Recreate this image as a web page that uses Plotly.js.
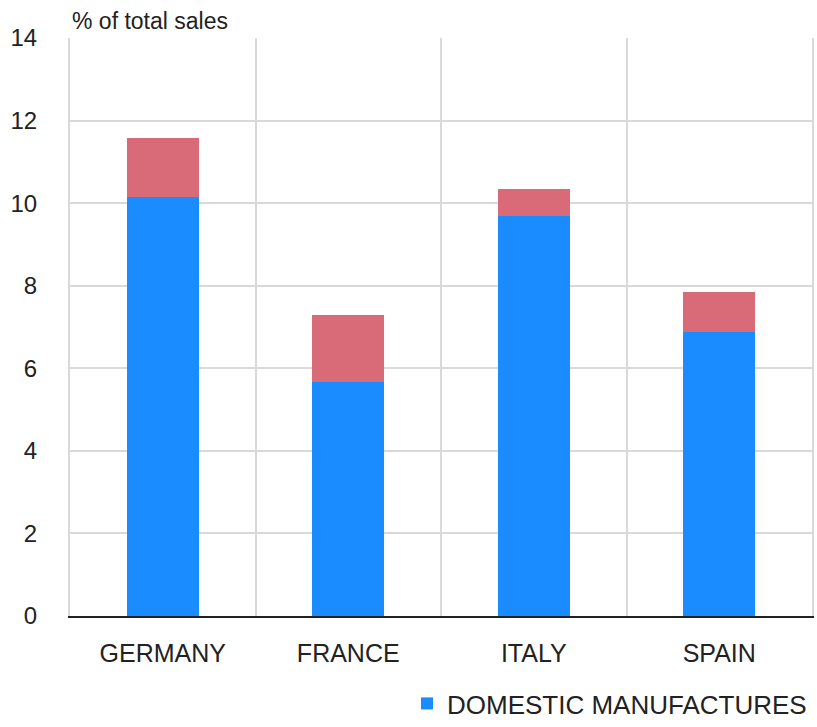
<!DOCTYPE html>
<html>
<head>
<meta charset="utf-8">
<script src="https://cdn.plot.ly/plotly-3.0.1.min.js"></script>
<style>html,body{margin:0;padding:0;background:#fff;}#chart{width:817px;height:727px;}</style>
</head>
<body>
<div id="chart"></div>
<script>
var countries = ["GERMANY", "FRANCE", "ITALY", "SPAIN"];
var domestic = [10.15, 5.67, 9.69, 6.88];
var foreign = [1.42, 1.62, 0.65, 0.97];
var yTicks = [0, 2, 4, 6, 8, 10, 12, 14];

var FONT = "Liberation Sans, Arial, sans-serif";

var traces = [
  {
    type: "bar", x: countries, y: domestic, name: "DOMESTIC MANUFACTURES",
    marker: {color: "#1b8cff"}, width: 0.39
  },
  {
    type: "bar", x: countries, y: foreign, name: "FOREIGN MANUFACTURES",
    marker: {color: "#d86b77"}, width: 0.39, showlegend: false
  }
];

var layout = {
  width: 817, height: 727,
  margin: {l: 70, r: 5, t: 38, b: 111},
  barmode: "stack",
  paper_bgcolor: "#fff", plot_bgcolor: "#fff",
  font: {family: FONT, color: "#222", size: 22},
  xaxis: {
    type: "category", range: [-0.5, 3.5],
    tickson: "boundaries", showgrid: true, gridcolor: "#d9d9d9", gridwidth: 2,
    ticks: "", ticklabelstandoff: 14,
    tickfont: {size: 25, color: "#222"},
    showline: true, linecolor: "#222", linewidth: 2,
    zeroline: false
  },
  yaxis: {
    range: [0, 14], tickvals: yTicks, ticktext: yTicks.map(String),
    showgrid: true, gridcolor: "#d9d9d9", gridwidth: 2,
    showline: true, mirror: true, linecolor: "#d9d9d9", linewidth: 2,
    zeroline: false, ticks: "", ticklabelstandoff: 26,
    tickfont: {size: 24, color: "#222"}
  },
  showlegend: true,
  legend: {
    orientation: "h", x: 1, xanchor: "right", xref: "paper",
    yref: "container", y: -0.02, yanchor: "bottom",
    font: {size: 26, color: "#222"}, bgcolor: "rgba(0,0,0,0)"
  },
  annotations: [{
    text: "% of total sales", xref: "paper", yref: "paper", x: 0, y: 1,
    xanchor: "left", yanchor: "bottom", yshift: 2, showarrow: false,
    font: {size: 23, color: "#222"}
  }]
};

Plotly.newPlot("chart", traces, layout, {displayModeBar: false, staticPlot: true});
</script>
</body>
</html>
